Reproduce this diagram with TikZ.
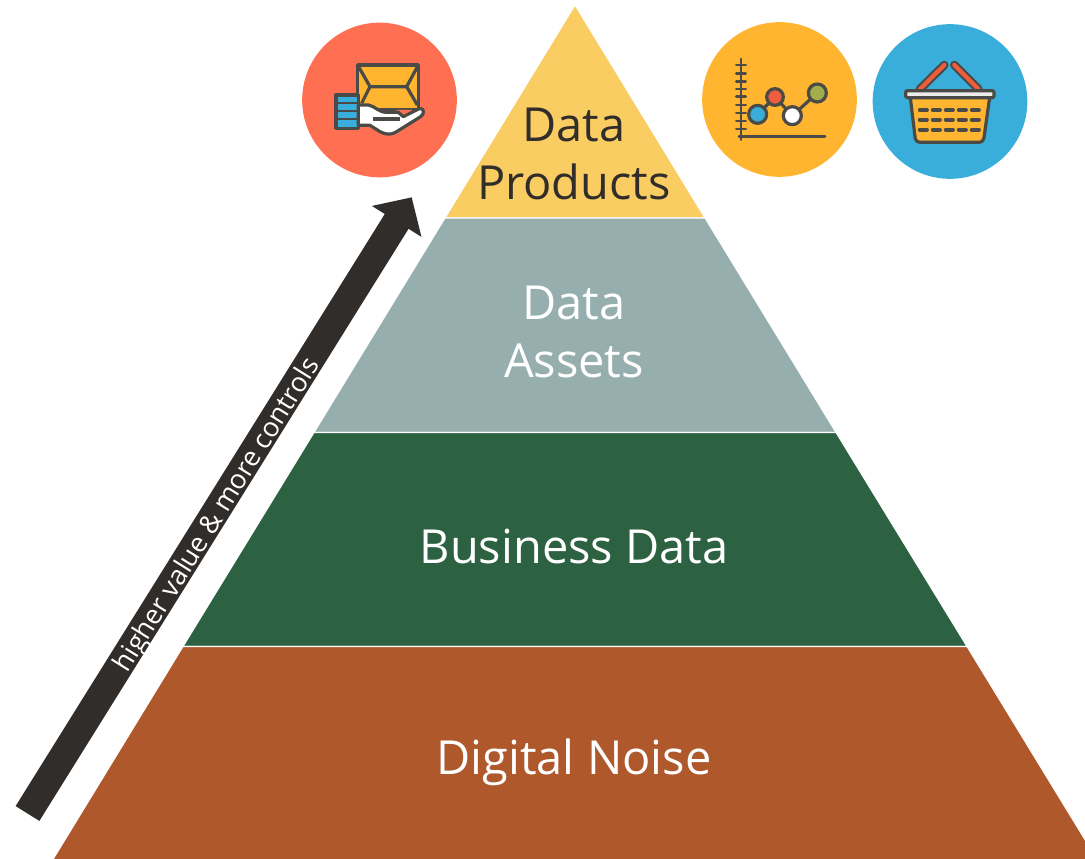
\documentclass[tikz,border=0pt]{standalone}
\usepackage{fontspec}
\setmainfont{Open Sans}
\usetikzlibrary{arrows.meta}
\definecolor{ochre}{HTML}{FACD62}
\definecolor{sage}{HTML}{96AEAE}
\definecolor{forest}{HTML}{2C6241}
\definecolor{rust}{HTML}{AE582C}
\definecolor{coral}{HTML}{FF6F52}
\definecolor{amber}{HTML}{FFB52F}
\definecolor{sky}{HTML}{3AAEDB}
\definecolor{ink}{HTML}{312D2A}
\definecolor{iconline}{HTML}{4A4A46}
\definecolor{olive}{HTML}{A3AD4B}
\definecolor{brick}{HTML}{EC5E3E}
\begin{document}
\begin{tikzpicture}
	[x=.75pt,y=-.75pt,
	layer/.style={draw=white,line width=.8pt},
	label/.style={text=white,font=\fontsize{35.2}{43.5}\selectfont,align=center,inner sep=0pt},
	badge/.style={circle,minimum size=116pt,inner sep=0pt},
	icon/.style={draw=iconline,line width=2.4pt,line join=round},
	iconbar/.style={draw=iconline,line width=2.2pt,line cap=round},
	dot/.style={icon,circle,inner sep=0pt,minimum size=13.5pt}]
	\useasboundingbox (0,0) rectangle (1085,859);
	\clip (0,0) rectangle (1085,859);
	\fill [white] (0,0) rectangle (1085,859);
	\path [layer,fill=ochre] (575,5) -- (705,218) -- (445,218) -- cycle;
	\path [layer,fill=sage] (445,218) -- (705,218) -- (836,432.5) -- (314,432.5) -- cycle;
	\path [layer,fill=forest] (314,432.5) -- (836,432.5) -- (967,646.5) -- (183,646.5) -- cycle;
	\path [layer,fill=rust] (183,646.5) -- (967,646.5) -- (1098,861) -- (52,861) -- cycle;
	\node (products) [label,text=ink] at (574,154) {Data\\Products};
	\node (assets) [label] at (574,332) {Data\\Assets};
	\node (business) [label] at (574,547) {Business Data};
	\node (noise) [label] at (574,762) {Digital Noise};
	\coordinate (tail) at (27.5,813.5);
	\coordinate (tip) at (411.7,197.3);
	\draw [ink,line width=21pt,-{Triangle[length=21.3pt,width=42.5pt]}] (tail) -- (tip)
	node (climb) [pos=.487,sloped,yshift=-3pt,text=white,font=\fontsize{20.2}{24}\selectfont,inner sep=0pt] {higher value \& more controls};
	\node (offer) [badge,fill=coral] at (379.5,100) {};
	\node (chart) [badge,fill=amber] at (779.5,99.5) {};
	\node (basket) [badge,fill=sky] at (950,101.5) {};
	\begin{scope}[shift={(290,20)},scale=1/3]
		\draw [icon,fill=amber] (203,135) rectangle (385,268);
		\draw [icon] (203,135) -- (240,200) -- (350,200) -- (385,135);
		\draw [icon] (240,200) -- (215,250);
		\draw [icon] (350,200) -- (382,255);
		\fill [coral] (318,270) -- (368,270) -- (338,292) -- cycle;
		\draw [icon,fill=sky] (138,225) rectangle (205,325);
		\foreach \y in {250,273,296}
			\draw [iconline,line width=1.6pt] (140,\y) -- (203,\y);
		\draw [icon,fill=white] (205,255) -- (235,255) .. controls (255,258) and (265,277) .. (290,277)
			-- (325,277) -- (340,290) -- (388,266) .. controls (402,262) and (405,282) .. (392,290)
			-- (315,338) .. controls (300,345) and (285,343) .. (270,335) -- (240,316) -- (205,316) -- cycle;
		\draw [icon] (250,297) -- (330,297);
	\end{scope}
	\begin{scope}[shift={(695,15)},scale=1/3]
		\draw [iconbar] (138,132) -- (138,374);
		\draw [iconbar] (132,365) -- (390,365);
		\foreach \y in {150,175,199,222,245,270,294,318,342}
			\draw [iconbar] (124,\y) -- (152,\y);
		\draw [icon] (188,298) -- (240,246) -- (292,302) -- (367,234);
		\node (bluedot) [dot,fill=sky] at (188,298) {};
		\node (reddot) [dot,fill=brick,minimum size=12.5pt] at (240,246) {};
		\node (whitedot) [dot,fill=white] at (292,302) {};
		\node (greendot) [dot,fill=olive] at (367,234) {};
	\end{scope}
	\begin{scope}[shift={(865,15)},scale=1/3]
		\draw [iconline,line width=6.4pt,line cap=round] (165,222) -- (238,150);
		\draw [iconline,line width=6.4pt,line cap=round] (268,150) -- (340,222);
		\draw [brick,line width=3.2pt,line cap=round] (165,222) -- (238,150);
		\draw [brick,line width=3.2pt,line cap=round] (268,150) -- (340,222);
		\draw [icon,fill=amber,rounded corners=3pt] (135,240) -- (375,240) -- (355,382) -- (152,382) -- cycle;
		\draw [icon,fill=white!85!gray,rounded corners=1pt] (122,227) rectangle (387,248);
		\foreach \x in {175,214,253,292,331}
			\foreach \y in {285,314,344}
				\draw [iconline,line width=2.8pt,line cap=round] (\x-11,\y) -- (\x+11,\y);
	\end{scope}
\end{tikzpicture}
\end{document}
